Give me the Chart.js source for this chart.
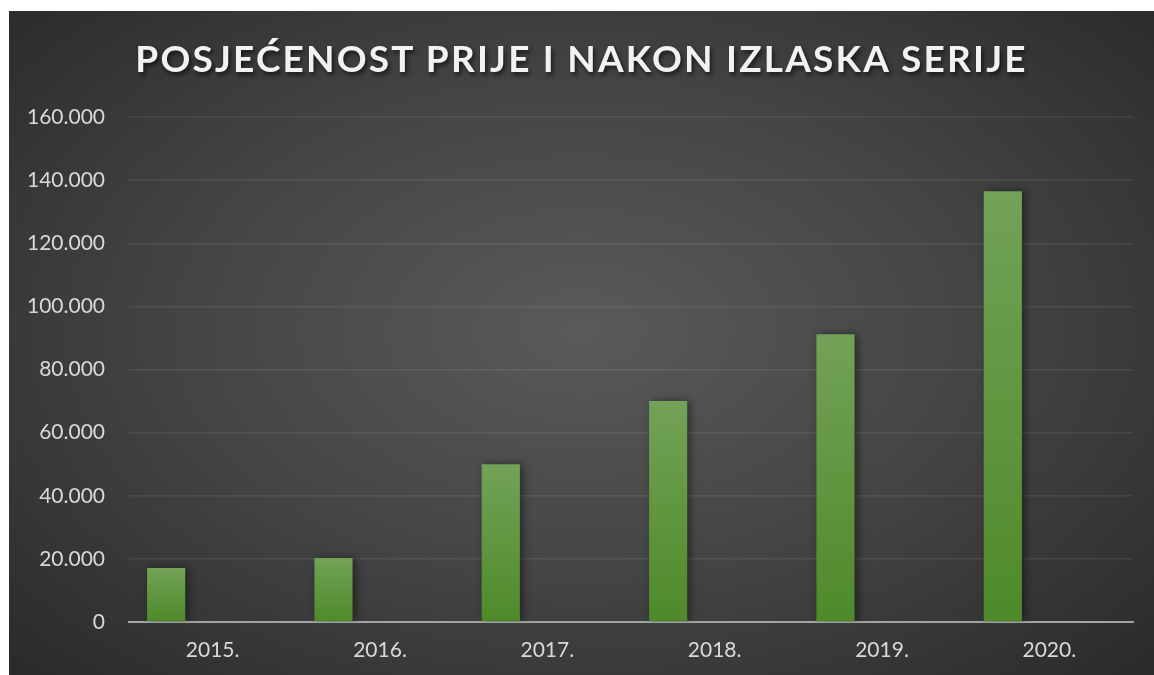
<!DOCTYPE html>
<html>
<head>
<meta charset="utf-8">
<script src="https://cdn.jsdelivr.net/npm/chart.js@4"></script>
<style>
  body { margin: 0; background: #fff; }
  #wrap {
    position: absolute; left: 9px; top: 11px; width: 1145px; height: 664px;
    background: radial-gradient(ellipse 75% 80% at 50% 48%, #5a5a5a 0%, #454545 45%, #262626 100%);
  }
  #title {
    position: absolute; left: 0; top: 24px; width: 100%; text-align: center;
    font-family: Lato, sans-serif; font-weight: bold; font-size: 37px;
    letter-spacing: 2.2px; color: #f2f2f2;
    text-shadow: 2px 3px 4px rgba(0, 0, 0, 0.6);
  }
  canvas { position: absolute; left: 0; top: 0; }
</style>
</head>
<body>
<div id="wrap">
  <canvas id="chart" width="1145" height="664"></canvas>
  <div id="title">POSJEĆENOST PRIJE I NAKON IZLASKA SERIJE</div>
</div>
<script>
const years = ['2015.', '2016.', '2017.', '2018.', '2019.', '2020.'];
const visitors = [17100, 20300, 50000, 70000, 91200, 136500];
const emptySeries = [null, null, null, null, null, null];

function formatThousands(v) {
  return v.toString().replace(/\B(?=(\d{3})+(?!\d))/g, '.');
}

function barGradient(context) {
  const chart = context.chart;
  const y = chart.scales.y;
  if (!y || context.raw == null) return '#5a922f';
  const top = y.getPixelForValue(context.raw);
  const base = y.getPixelForValue(0);
  if (!isFinite(top) || !isFinite(base) || top === base) return '#5a922f';
  const g = chart.ctx.createLinearGradient(0, top, 0, base);
  g.addColorStop(0, '#72a257');
  g.addColorStop(1, '#4e8a29');
  return g;
}

const barShadow = {
  id: 'barShadow',
  beforeDatasetsDraw(chart) {
    const ctx = chart.ctx;
    ctx.save();
    ctx.shadowColor = 'rgba(0, 0, 0, 0.45)';
    ctx.shadowBlur = 8;
    ctx.shadowOffsetX = 3;
    ctx.shadowOffsetY = 0;
  },
  afterDatasetsDraw(chart) {
    chart.ctx.restore();
  },
};

new Chart(document.getElementById('chart').getContext('2d'), {
  type: 'bar',
  data: {
    labels: years,
    datasets: [
      { label: 'Posjećenost', data: visitors, backgroundColor: barGradient, categoryPercentage: 1.112, barPercentage: 0.41 },
      { label: '', data: emptySeries, backgroundColor: '#a5a5a5', categoryPercentage: 1.112, barPercentage: 0.41 },
    ],
  },
  options: {
    responsive: false,
    devicePixelRatio: 1,
    animation: false,
    layout: { padding: { top: 106, right: 21, bottom: 0, left: 0 } },
    plugins: { legend: { display: false }, tooltip: { enabled: false }, title: { display: false } },
    scales: {
      x: {
        grid: { display: false, drawTicks: false },
        border: { color: '#a3a3a3', width: 2 },
        ticks: { color: '#d9d9d9', font: { family: 'Lato', size: 21 }, padding: 16 },
        afterFit(scale) { scale.height = 53; },
      },
      y: {
        min: 0,
        max: 160000,
        grid: { color: 'rgba(255, 255, 255, 0.08)', lineWidth: 1.5, drawTicks: false },
        border: { display: false },
        ticks: {
          stepSize: 20000,
          color: '#d9d9d9',
          font: { family: 'Lato', size: 21 },
          padding: 24,
          callback: (v) => formatThousands(v),
        },
        afterFit(scale) { scale.width = 120; },
      },
    },
  },
  plugins: [barShadow],
});
</script>
</body>
</html>
